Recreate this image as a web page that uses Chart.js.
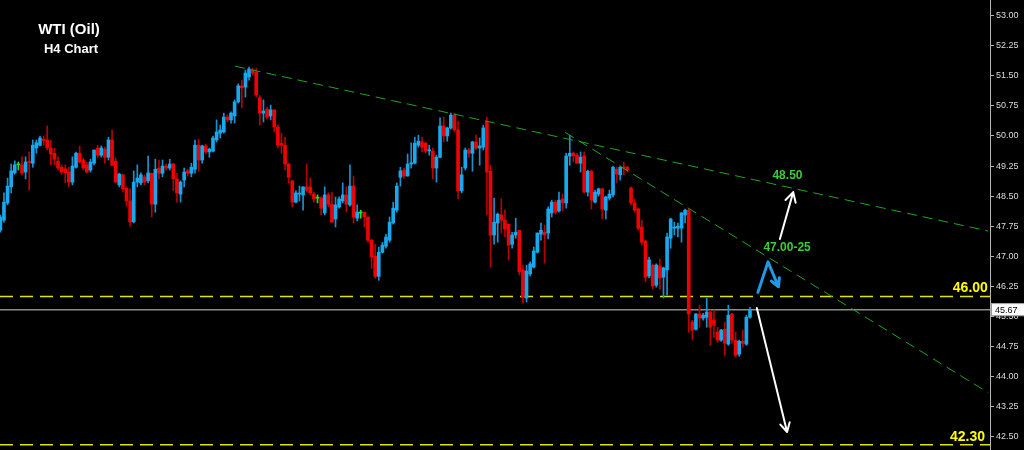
<!DOCTYPE html>
<html>
<head>
<meta charset="utf-8">
<script src="https://cdn.jsdelivr.net/npm/chart.js@4.4.1/dist/chart.umd.min.js"></script>
<style>
  html, body { margin: 0; padding: 0; background: #000; }
  canvas { display: block; background: #000; }
</style>
</head>
<body>
<canvas id="chart" width="1024" height="450"></canvas>
<script>
// --- H4 candles, WTI (oil) ---
const opens = [
  47.65, 47.90, 48.33, 48.73, 49.08, 49.28, 49.28, 49.10, 49.36, 49.32,
  49.70, 49.77, 49.92, 49.90, 49.70, 49.57, 49.37, 49.22, 49.18, 49.10,
  48.85, 49.22, 49.57, 49.40, 49.28, 49.15, 49.32, 49.70, 49.52, 49.67,
  49.47, 49.90, 49.37, 48.78, 49.03, 48.70, 48.38, 47.86, 48.85, 48.83,
  48.98, 48.88, 49.07, 48.30, 49.20, 49.07, 49.25, 49.20, 49.30, 48.93,
  48.55, 48.90, 49.13, 49.07, 49.17, 49.77, 49.40, 49.75, 49.60, 49.62,
  49.90, 50.07, 50.10, 50.47, 50.40, 50.50, 50.85, 51.25, 51.22, 51.47,
  51.64, 51.59, 50.95, 50.57, 50.67, 50.50, 50.65, 50.22, 49.82, 49.77,
  49.30, 48.88, 48.35, 48.55, 48.53, 48.73, 48.73, 48.55, 48.45, 48.45,
  48.08, 48.53, 48.30, 47.93, 48.23, 48.38, 48.53, 48.28, 48.75, 47.95,
  48.08, 48.10, 47.98, 47.40, 47.00, 46.50, 47.10, 47.25, 47.40, 47.83,
  48.15, 48.97, 49.15, 49.00, 49.30, 49.32, 49.77, 49.85, 49.82, 49.63,
  49.62, 49.20, 49.47, 50.25, 50.00, 50.20, 50.52, 50.15, 48.63, 49.20,
  49.65, 49.57, 49.85, 49.70, 49.72, 50.35, 49.12, 47.53, 47.83, 48.03,
  47.90, 47.80, 47.30, 47.53, 47.65, 46.66, 45.96, 46.56, 46.73, 47.10,
  47.55, 47.60, 47.58, 48.08, 48.35, 48.13, 48.43, 48.33, 49.50, 49.57,
  49.52, 49.32, 49.50, 48.60, 49.12, 48.35, 48.55, 48.68, 48.15, 48.45,
  48.53, 49.17, 49.03, 49.22, 49.22, 48.70, 48.33, 48.18, 47.73, 47.38,
  46.51, 46.78, 46.28, 46.76, 46.48, 46.66, 47.45, 47.70, 47.70, 47.70,
  48.03, 48.15, 45.36, 45.18, 45.56, 45.46, 45.48, 45.61, 45.41, 45.11,
  44.91, 45.18, 44.81, 45.56, 44.91, 44.56, 44.88, 44.81, 45.48
];
const highs = [
  48.03, 48.58, 48.95, 49.30, 49.38, 49.35, 49.48, 49.48, 49.60, 49.90,
  49.90, 50.00, 50.00, 50.25, 49.90, 49.70, 49.48, 49.28, 49.28, 49.22,
  49.48, 49.60, 49.75, 49.45, 49.35, 49.42, 49.65, 49.77, 49.75, 49.72,
  49.97, 50.15, 49.45, 49.07, 49.05, 48.73, 48.68, 49.13, 49.28, 49.08,
  49.03, 49.50, 49.07, 49.42, 49.40, 49.40, 49.30, 49.42, 49.32, 49.07,
  48.88, 49.20, 49.17, 49.32, 49.90, 49.92, 49.77, 49.80, 49.70, 50.00,
  50.40, 50.27, 50.57, 50.52, 50.60, 50.90, 51.30, 51.39, 51.64, 51.72,
  51.69, 51.69, 51.00, 50.90, 50.72, 50.77, 50.65, 50.27, 50.07, 49.97,
  49.32, 48.90, 48.63, 48.75, 48.73, 49.30, 48.95, 48.60, 48.53, 48.48,
  48.73, 48.58, 48.60, 48.48, 48.48, 48.83, 48.73, 49.28, 49.00, 48.28,
  48.15, 48.10, 47.98, 47.43, 47.30, 47.23, 47.35, 47.55, 47.98, 48.35,
  48.83, 49.22, 49.20, 49.55, 49.83, 49.97, 50.02, 49.97, 49.85, 49.77,
  49.70, 49.52, 50.45, 50.47, 50.22, 50.57, 50.57, 50.37, 49.22, 49.70,
  49.70, 49.87, 50.02, 49.95, 50.27, 50.47, 49.27, 48.45, 48.08, 48.43,
  48.15, 47.80, 47.60, 47.95, 47.65, 46.78, 46.78, 46.86, 47.23, 47.58,
  47.83, 47.78, 48.23, 48.40, 48.40, 48.60, 48.55, 49.57, 50.02, 49.60,
  49.57, 49.60, 49.60, 49.15, 49.15, 48.65, 48.70, 48.70, 48.50, 48.65,
  49.25, 49.22, 49.25, 49.35, 49.25, 48.73, 48.43, 48.20, 47.90, 47.40,
  46.98, 46.81, 46.81, 46.93, 46.73, 47.58, 47.95, 47.85, 47.83, 48.10,
  48.18, 48.18, 45.41, 45.58, 45.78, 45.58, 45.96, 45.66, 45.66, 45.23,
  45.18, 45.36, 45.78, 45.58, 45.11, 44.91, 45.16, 45.53, 45.73
];
const lows = [
  47.60, 47.85, 48.28, 48.58, 49.05, 49.15, 49.03, 48.93, 48.65, 49.22,
  49.57, 49.75, 49.77, 49.65, 49.28, 49.28, 49.15, 49.05, 48.83, 48.73,
  48.78, 49.20, 49.32, 49.15, 49.07, 49.10, 49.28, 49.45, 49.47, 49.32,
  49.40, 49.27, 48.83, 48.73, 48.60, 48.25, 47.75, 47.83, 48.73, 48.78,
  48.78, 48.83, 47.98, 48.10, 48.93, 48.98, 49.15, 49.15, 48.63, 48.35,
  48.35, 48.73, 49.00, 48.98, 49.07, 49.12, 49.32, 49.55, 49.47, 49.60,
  49.85, 49.95, 50.07, 50.35, 50.32, 50.32, 50.82, 50.70, 50.97, 51.39,
  51.52, 50.97, 50.27, 50.35, 50.42, 50.40, 50.10, 49.70, 49.57, 49.15,
  48.83, 48.23, 48.33, 48.38, 48.15, 48.60, 48.53, 48.35, 48.33, 48.03,
  48.03, 48.23, 47.85, 47.73, 48.20, 48.33, 48.10, 48.25, 47.83, 47.88,
  47.95, 47.73, 47.35, 46.70, 46.45, 46.40, 47.08, 47.20, 47.35, 47.80,
  48.10, 48.75, 48.95, 49.00, 49.20, 49.30, 49.72, 49.60, 49.57, 49.52,
  48.92, 48.85, 49.45, 49.85, 49.87, 50.17, 50.10, 48.43, 48.58, 49.15,
  49.47, 49.12, 49.65, 49.27, 49.65, 48.03, 46.73, 47.30, 47.35, 47.58,
  47.48, 46.91, 47.20, 47.45, 46.53, 45.83, 45.86, 46.51, 46.71, 47.08,
  47.40, 46.83, 47.43, 47.98, 48.05, 48.10, 48.13, 48.20, 49.27, 49.35,
  49.32, 49.10, 48.58, 48.50, 48.18, 48.33, 48.50, 47.93, 47.93, 48.40,
  48.48, 48.83, 48.90, 49.03, 49.10, 48.28, 48.10, 47.65, 47.28, 46.36,
  46.46, 46.18, 46.23, 46.18, 45.96, 46.03, 47.20, 47.53, 47.48, 47.35,
  47.83, 45.11, 44.93, 45.16, 45.23, 45.41, 45.23, 44.78, 44.98, 44.86,
  44.88, 44.53, 44.78, 44.83, 44.48, 44.51, 44.73, 44.78, 45.46
];
const closes = [
  47.98, 48.35, 48.75, 49.13, 49.28, 49.28, 49.08, 49.35, 49.34, 49.77,
  49.83, 49.95, 49.89, 49.70, 49.55, 49.42, 49.20, 49.10, 49.08, 48.85,
  49.25, 49.57, 49.35, 49.20, 49.10, 49.35, 49.65, 49.52, 49.70, 49.47,
  49.90, 49.27, 48.85, 49.05, 48.68, 48.38, 47.86, 48.85, 48.95, 49.03,
  48.85, 49.08, 48.30, 49.17, 49.07, 49.25, 49.20, 49.30, 48.93, 48.58,
  48.85, 49.10, 49.07, 49.22, 49.77, 49.40, 49.75, 49.60, 49.67, 49.95,
  50.10, 50.15, 50.47, 50.40, 50.57, 50.85, 51.25, 51.20, 51.57, 51.67,
  51.57, 51.02, 50.57, 50.62, 50.47, 50.65, 50.22, 49.77, 49.77, 49.30,
  48.97, 48.35, 48.58, 48.57, 48.73, 48.65, 48.58, 48.43, 48.45, 48.20,
  48.53, 48.30, 47.85, 48.28, 48.43, 48.53, 48.30, 48.75, 47.98, 48.10,
  48.08, 47.98, 47.40, 46.98, 46.50, 47.10, 47.28, 47.48, 47.85, 48.20,
  48.75, 49.13, 49.00, 49.30, 49.33, 49.82, 49.87, 49.72, 49.62, 49.65,
  49.20, 49.47, 50.25, 50.00, 50.20, 50.52, 50.15, 48.63, 49.03, 49.65,
  49.57, 49.85, 49.70, 49.75, 50.20, 49.10, 47.53, 47.85, 48.05, 47.90,
  47.68, 47.28, 47.53, 47.60, 46.61, 45.98, 46.63, 46.81, 47.13, 47.58,
  47.65, 47.53, 48.18, 48.35, 48.10, 48.40, 48.33, 49.50, 49.57, 49.50,
  49.32, 49.47, 48.60, 49.12, 48.40, 48.60, 48.68, 48.18, 48.48, 48.55,
  49.22, 49.05, 49.22, 49.20, 49.15, 48.33, 48.15, 47.70, 47.35, 46.48,
  46.91, 46.26, 46.78, 46.46, 46.71, 47.48, 47.93, 47.73, 47.75, 48.08,
  48.15, 45.56, 45.16, 45.56, 45.46, 45.53, 45.61, 45.23, 45.28, 44.91,
  45.16, 44.83, 45.53, 44.91, 44.53, 44.88, 44.83, 45.48, 45.67
];

const yTicks = [42.50, 43.25, 44.00, 44.75, 45.50, 46.25, 47.00, 47.75,
                48.50, 49.25, 50.00, 50.75, 51.50, 52.25, 53.00];

const currentPrice = 45.67;
const supportLevel = 46.00;
const targetLevel = 42.30;
// trend lines: [index, price] end points
const upperTrend = [[65.1, 51.74], [274.1, 47.63]];
const lowerTrend = [[156.7, 50.09], [274.1, 43.60]];

const UP = '#17a9f0', DOWN = '#f00000', DOJI = '#22e022';
const UP_WICK = '#1a92d2', DOWN_WICK = '#b80000';

const idx = closes.map((c, i) => i);
const bodyColors = idx.map(i => closes[i] > opens[i] ? UP : closes[i] < opens[i] ? DOWN : DOJI);
const wickColors = idx.map(i => closes[i] > opens[i] ? UP_WICK : closes[i] < opens[i] ? DOWN_WICK : DOJI);

function arrow(ctx, pts, color, width, head) {
  ctx.save();
  ctx.strokeStyle = color;
  ctx.lineWidth = width;
  ctx.lineCap = 'round';
  ctx.lineJoin = 'round';
  ctx.beginPath();
  ctx.moveTo(pts[0][0], pts[0][1]);
  for (let k = 1; k < pts.length; k++) ctx.lineTo(pts[k][0], pts[k][1]);
  const a = pts[pts.length - 1], b = pts[pts.length - 2];
  const ang = Math.atan2(a[1] - b[1], a[0] - b[0]);
  ctx.moveTo(a[0] - head * Math.cos(ang - 0.5), a[1] - head * Math.sin(ang - 0.5));
  ctx.lineTo(a[0], a[1]);
  ctx.lineTo(a[0] - head * Math.cos(ang + 0.5), a[1] - head * Math.sin(ang + 0.5));
  ctx.stroke();
  ctx.restore();
}

const overlay = {
  id: 'overlay',
  beforeDatasetsDraw(chart) {
    const { ctx, chartArea: ca, scales: { y } } = chart;
    ctx.save();
    // current price line
    ctx.strokeStyle = '#8c8c8c';
    ctx.lineWidth = 1.5;
    ctx.beginPath();
    ctx.moveTo(ca.left, y.getPixelForValue(currentPrice));
    ctx.lineTo(ca.right, y.getPixelForValue(currentPrice));
    ctx.stroke();
    // yellow levels
    ctx.strokeStyle = '#e2e200';
    ctx.setLineDash([13, 7]);
    [supportLevel, targetLevel].forEach(v => {
      const py = y.getPixelForValue(v);
      ctx.beginPath();
      ctx.moveTo(ca.left, py);
      ctx.lineTo(ca.right, py);
      ctx.stroke();
    });
    ctx.restore();
  },
  afterDatasetsDraw(chart) {
    const { ctx, scales: { x, y } } = chart;
    const P = (i, v) => [x.getPixelForValue(i), y.getPixelForValue(v)];
    ctx.save();
    ctx.strokeStyle = '#21a521';
    ctx.lineWidth = 1;
    ctx.setLineDash([10, 6]);
    [upperTrend, lowerTrend].forEach(t => {
      const a = P(...t[0]), b = P(...t[1]);
      ctx.beginPath();
      ctx.moveTo(a[0], a[1]);
      ctx.lineTo(b[0], b[1]);
      ctx.stroke();
    });
    ctx.setLineDash([]);

    // arrows
    arrow(ctx, [P(216.3, 47.43), P(220.0, 48.60)], '#ffffff', 2, 11);
    arrow(ctx, [P(209.9, 45.71), P(218.3, 42.62)], '#ffffff', 2, 10);
    arrow(ctx, [P(210.2, 46.10), P(213.0, 46.86), P(215.9, 46.24)], '#1e9be8', 3, 9);

    // labels
    ctx.textBaseline = 'middle';
    ctx.textAlign = 'center';
    ctx.fillStyle = '#3bcc3b';
    ctx.font = 'bold 12px "Liberation Sans", Arial, sans-serif';
    let p = P(218.4, 49.00);
    ctx.fillText('48.50', p[0], p[1]);
    p = P(218.3, 47.205);
    ctx.fillText('47.00-25', p[0], p[1]);
    ctx.textAlign = 'right';
    ctx.fillStyle = '#ffff00';
    ctx.font = 'bold 14px "Liberation Sans", Arial, sans-serif';
    p = P(274.0, 46.21);
    ctx.fillText('46.00', p[0], p[1]);
    p = P(273.2, 42.49);
    ctx.fillText('42.30', p[0], p[1]);
    ctx.restore();
  },
  afterDraw(chart) {
    const { ctx, chartArea: ca, scales: { y } } = chart;
    ctx.save();
    // price tag
    const py = y.getPixelForValue(currentPrice);
    ctx.fillStyle = '#ffffff';
    ctx.fillRect(ca.right + 1, py - 6.5, 34, 13);
    ctx.strokeStyle = '#9a9a9a';
    ctx.lineWidth = 1;
    ctx.strokeRect(ca.right + 1.5, py - 6, 33, 12);
    ctx.fillStyle = '#000000';
    ctx.font = '9px "Liberation Sans", Arial, sans-serif';
    ctx.textBaseline = 'middle';
    ctx.textAlign = 'left';
    ctx.fillText(currentPrice.toFixed(2), ca.right + 5, py + 0.5);
    // title
    ctx.fillStyle = '#ffffff';
    ctx.textAlign = 'center';
    ctx.textBaseline = 'alphabetic';
    ctx.font = 'bold 15px "Liberation Sans", Arial, sans-serif';
    ctx.fillText('WTI (Oil)', 69, 34);
    ctx.font = 'bold 13px "Liberation Sans", Arial, sans-serif';
    ctx.fillText('H4 Chart', 71, 53);
    ctx.restore();
  }
};

new Chart(document.getElementById('chart').getContext('2d'), {
  type: 'bar',
  data: {
    datasets: [
      {
        label: 'body',
        data: idx.map(i => ({ x: i, y: [opens[i], closes[i]] })),
        backgroundColor: bodyColors,
        barThickness: 3,
        minBarLength: 1,
        grouped: false
      },
      {
        label: 'wick',
        data: idx.map(i => ({ x: i, y: [lows[i], highs[i]] })),
        backgroundColor: wickColors,
        barThickness: 1,
        grouped: false
      }
    ]
  },
  options: {
    responsive: false,
    animation: false,
    layout: { padding: 0 },
    plugins: { legend: { display: false }, tooltip: { enabled: false } },
    scales: {
      x: { type: 'linear', min: -0.1, max: 274.6, offset: false, display: false },
      y: {
        position: 'right',
        min: 42.17,
        max: 53.39,
        afterBuildTicks: ax => { ax.ticks = yTicks.map(v => ({ value: v })); },
        afterFit: ax => {
          ax.width = 34;
          ax.paddingTop = 0;
          ax.paddingBottom = 0;
        },
        border: { display: true, color: '#b4b4b4', width: 1 },
        grid: { drawOnChartArea: false, drawTicks: true, tickLength: 4, color: '#b4b4b4' },
        ticks: {
          autoSkip: false,
          color: '#dcdcdc',
          padding: 2,
          font: { family: '"Liberation Sans", Arial, sans-serif', size: 9 },
          callback: v => v.toFixed(2)
        }
      }
    }
  },
  plugins: [overlay]
});
</script>
</body>
</html>
